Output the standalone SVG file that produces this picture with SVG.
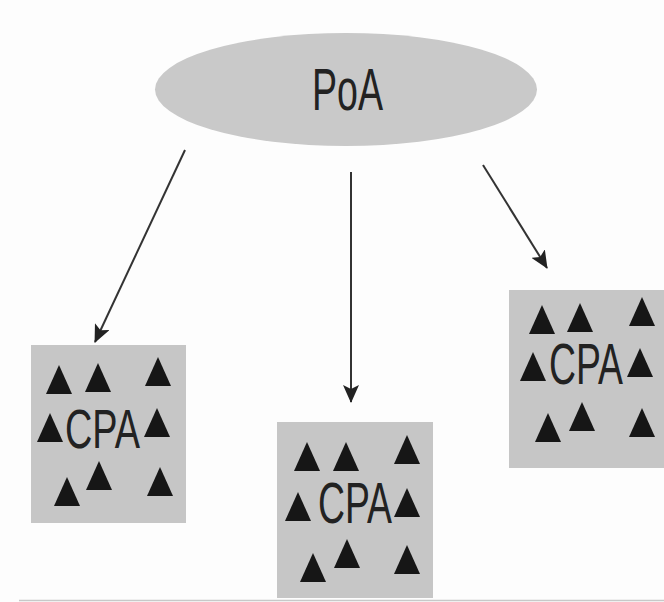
<svg xmlns="http://www.w3.org/2000/svg" xmlns:xlink="http://www.w3.org/1999/xlink" width="664" height="602" viewBox="0 0 664 602">
<style>
.box{fill:#c6c6c6}
.lbl{font-family:"Liberation Sans","DejaVu Sans",sans-serif;fill:#222;font-weight:normal}
.conn{stroke:#333;stroke-width:2;fill:none;marker-end:url(#ah)}
.tri{fill:#161616}
</style>
<defs>
<marker id="ah" markerWidth="18" markerHeight="16" refX="17" refY="8" orient="auto" markerUnits="userSpaceOnUse">
<path d="M0,0 L18,8 L0,16 L4,8 Z" fill="#222"/>
</marker>
<path id="t" d="M0,0 L13,29 L-13,29 Z"/>
</defs>
<rect width="664" height="602" fill="#fdfdfd"/>
<line x1="19" y1="600.5" x2="664" y2="600.5" stroke="#c8c8c8" stroke-width="1.5"/>
<g id="poa">
<ellipse cx="346" cy="89.5" rx="191" ry="56.5" fill="#c9c9c9"/>
<text class="lbl" x="312" y="110" font-size="60" textLength="71" lengthAdjust="spacingAndGlyphs">PoA</text>
</g>
<g id="cpa-left">
<rect class="box" x="31" y="345" width="155" height="178"/>
<g class="tri">
<use xlink:href="#t" x="59" y="365"/><use xlink:href="#t" x="98" y="363"/><use xlink:href="#t" x="158" y="357"/>
<use xlink:href="#t" x="50" y="413"/><use xlink:href="#t" x="157" y="408"/>
<use xlink:href="#t" x="67" y="477"/><use xlink:href="#t" x="99" y="461"/><use xlink:href="#t" x="160" y="467"/>
</g>
<text class="lbl" x="65" y="448" font-size="56" textLength="75" lengthAdjust="spacingAndGlyphs">CPA</text>
</g>
<g id="cpa-middle">
<rect class="box" x="277" y="422" width="156" height="176"/>
<g class="tri">
<use xlink:href="#t" x="307" y="442"/><use xlink:href="#t" x="346" y="442"/><use xlink:href="#t" x="407" y="435"/>
<use xlink:href="#t" x="298" y="492"/><use xlink:href="#t" x="407" y="488"/>
<use xlink:href="#t" x="313" y="553"/><use xlink:href="#t" x="347" y="539"/><use xlink:href="#t" x="407" y="545"/>
</g>
<text class="lbl" x="318" y="523" font-size="57" textLength="74" lengthAdjust="spacingAndGlyphs">CPA</text>
</g>
<g id="cpa-right">
<rect class="box" x="509" y="290" width="155" height="178"/>
<g class="tri">
<use xlink:href="#t" x="542" y="305"/><use xlink:href="#t" x="580" y="303"/><use xlink:href="#t" x="642" y="297"/>
<use xlink:href="#t" x="533" y="352"/><use xlink:href="#t" x="640" y="348"/>
<use xlink:href="#t" x="548" y="413"/><use xlink:href="#t" x="582" y="402"/><use xlink:href="#t" x="642" y="408"/>
</g>
<text class="lbl" x="549" y="384" font-size="57" textLength="74" lengthAdjust="spacingAndGlyphs">CPA</text>
</g>
<g id="connectors">
<line class="conn" x1="185" y1="150" x2="95" y2="342"/>
<line class="conn" x1="351" y1="172" x2="351" y2="402"/>
<line class="conn" x1="483" y1="165" x2="547" y2="268"/>
</g>
</svg>
